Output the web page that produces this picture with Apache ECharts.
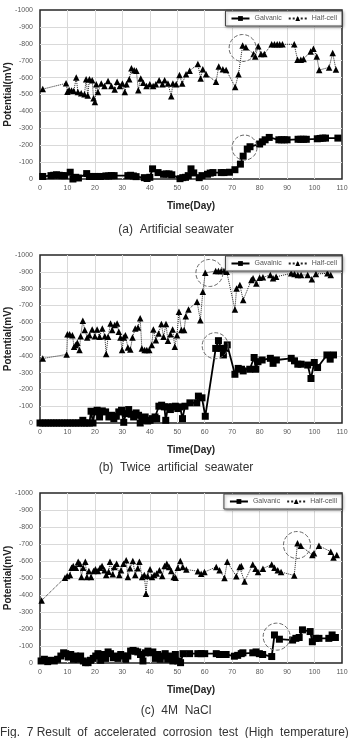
<!DOCTYPE html>
<html>
<head>
<meta charset="utf-8">
<script src="https://cdn.jsdelivr.net/npm/echarts@6/dist/echarts.min.js"></script>
<style>
	html, body { margin: 0; padding: 0; background: #fff; }
	#main { width: 352px; height: 738px; }
</style>
</head>
<body>
<div id="main"></div>
<script>
// (a) artificial seawater  [day, mV]
var galvanicA = [[1,-15],[4,-20],[5,-22],[6,-25],[7,-22],[8,-20],[9,-20],[11,-40],[12,0],[13,-10],[14,-6],[17,-32],[18,-15],[19,-15],[20,-15],[21,-15],[22,-15],[24,-18],[25,-18],[26,-20],[27,-20],[32,-20],[33,-22],[34,-18],[35,-14],[38,-8],[39,-3],[40,-10],[41,-60],[43,-38],[45,-28],[46,-30],[47,-30],[48,-25],[51,-2],[52,-8],[53,-10],[54,-20],[55,-60],[56,-36],[58,-8],[59,-20],[61,-28],[62,-35],[63,-38],[66,-38],[67,-38],[69,-40],[71,-55],[73,-88],[74,-135],[75.5,-177],[76.5,-191],[80,-207],[81,-220],[82,-232],[83.5,-246],[87,-232],[88,-232],[89,-232],[90,-232],[94,-235],[95,-235],[96,-235],[97,-235],[101,-238],[102,-240],[103,-242],[104,-242],[108.5,-242]];
var halfCellA = [[1,-532],[9.5,-566],[10,-517],[10.6,-527],[11.5,-523],[12.3,-520],[13.2,-600],[13.8,-515],[15,-508],[16.2,-502],[16.8,-590],[17.4,-494],[18,-590],[19,-585],[19.5,-478],[20,-455],[20.5,-560],[21.1,-515],[22.3,-565],[23.5,-550],[24.8,-580],[26,-550],[27.2,-530],[28.1,-575],[29.1,-550],[30,-565],[30.9,-515],[31.5,-560],[32.5,-590],[33.3,-655],[34.3,-643],[35.1,-640],[35.8,-525],[36.7,-595],[37.6,-570],[38.8,-550],[40,-560],[41.2,-550],[42.2,-560],[43.4,-585],[44.6,-560],[45.4,-585],[46.6,-565],[47.8,-490],[48.4,-565],[49.6,-560],[50.8,-615],[51.8,-565],[53.2,-620],[54.5,-640],[57.5,-680],[58.5,-595],[59.3,-650],[60.5,-620],[64.1,-575],[65.1,-665],[66.6,-650],[67.8,-645],[71.1,-545],[72.3,-620],[73.8,-790],[75,-780],[77.8,-740],[78.4,-725],[79.5,-785],[80.5,-740],[81.7,-740],[84.4,-797],[85.4,-797],[86.4,-797],[87.3,-797],[88.3,-797],[92.6,-797],[93.8,-705],[95,-705],[96,-710],[98.6,-755],[99.6,-770],[100.8,-725],[101.7,-645],[105.3,-660],[106.6,-745],[107.8,-648]];

// (b) twice artificial seawater
var galvanicB = [[0,0],[1,0],[2,0],[3,0],[4,0],[5,0],[6,0],[7,0],[8,0],[9,0],[10,0],[11,0],[12,0],[13,0],[14,0],[15,0],[15.6,-16],[16.2,0],[17,0],[18,0],[18.6,-70],[19.3,0],[19.9,-66],[20.8,-76],[21.7,-36],[22.7,-72],[23.9,-66],[25.1,-36],[26.1,-46],[26.9,-26],[27.8,-40],[28.7,-66],[29.7,-76],[30.5,-4],[31.3,-56],[32.3,-80],[33.2,-52],[34.1,-36],[35,-60],[35.9,-46],[36.5,0],[37.3,-16],[38.3,-36],[39.2,-12],[40.1,-16],[40.9,-26],[41.9,-36],[42.5,-26],[43.3,-100],[44.3,-106],[45.3,-96],[45.8,-16],[46.6,-96],[47.5,-80],[48.3,-96],[49.3,-100],[50.2,-86],[51,-96],[51.9,-26],[52.8,-100],[54.6,-120],[57.1,-120],[57.7,-160],[59,-150],[60.2,-40],[64,-444],[65,-490],[66,-444],[66.8,-405],[67.6,-444],[68.2,-465],[71,-290],[72.2,-325],[73.4,-320],[74,-310],[76.4,-320],[78,-390],[78.6,-320],[79.4,-365],[80.9,-375],[83.9,-385],[84.9,-355],[86.1,-375],[91.5,-385],[92.7,-370],[93.9,-350],[95.1,-350],[97.5,-345],[98.7,-265],[99.9,-360],[101.1,-330],[104.5,-405],[105.7,-380],[106.9,-405]];
var halfCellB = [[1,-384],[9.7,-408],[10,-529],[10.8,-529],[11.8,-523],[12.4,-454],[13,-464],[13.6,-478],[14.4,-434],[14.8,-517],[15.6,-609],[16.3,-553],[17.2,-509],[18,-523],[19,-557],[20,-517],[20.8,-557],[21.7,-513],[22.7,-563],[23.6,-517],[24.1,-410],[24.8,-513],[25.7,-593],[26.3,-553],[27.2,-583],[28.1,-593],[28.7,-543],[29.3,-509],[29.9,-434],[30.5,-509],[31.1,-523],[32,-450],[32.9,-438],[33.7,-509],[34.7,-563],[35.7,-569],[36.5,-623],[37.1,-444],[38.1,-434],[38.9,-434],[39.8,-434],[40.7,-464],[41.3,-557],[42.2,-493],[43.2,-533],[44.2,-589],[45,-513],[45.9,-589],[46.6,-489],[47.5,-529],[48.3,-557],[49.1,-454],[49.9,-523],[50.6,-662],[51.5,-553],[52.5,-553],[53.1,-636],[54.1,-676],[57.2,-722],[58.4,-612],[59.3,-781],[60.2,-894],[64,-905],[65,-905],[66,-905],[67,-905],[68,-900],[71,-676],[71.6,-801],[72.8,-821],[74,-732],[77,-851],[77.6,-861],[78.8,-831],[80,-865],[81.2,-867],[83.9,-881],[84.9,-861],[86,-870],[91.5,-891],[92.7,-887],[93.9,-881],[95.1,-881],[97.5,-881],[99,-855],[100.5,-887],[104.7,-891],[105.9,-881]];

// (c) 4M NaCl
var galvanicC = [[0.4,-12],[1.6,-22],[2.8,-8],[4,-16],[5.2,-12],[6.4,-22],[7.6,-41],[8.6,-60],[9.4,-55],[10.3,-35],[11.2,-50],[12.2,-22],[13,-41],[13.9,-22],[14.8,-41],[15.8,-12],[16.6,-2],[17.5,-2],[18.4,-16],[19.4,-27],[20.3,-41],[21.1,-55],[22.1,-16],[23,-50],[23.9,-27],[24.8,-65],[25.7,-55],[26.7,-31],[27.5,-41],[28.4,-27],[29.4,-50],[30.3,-41],[31.2,-22],[32,-41],[33,-70],[33.9,-74],[34.8,-70],[35.6,-65],[36.6,-50],[37.5,-12],[38.4,-60],[39.3,-70],[40.2,-60],[41.1,-65],[42,-27],[42.9,-50],[43.8,-22],[44.8,-41],[45.6,-55],[46.5,-22],[47.5,-41],[48.4,-12],[49.3,-50],[50.2,-12],[51.2,-2],[52.1,-55],[54.5,-55],[57.5,-55],[58.7,-55],[60,-55],[64.2,-55],[65.4,-50],[67.8,-50],[70.8,-40],[72,-45],[73.3,-55],[73.9,-60],[77.5,-60],[78.7,-65],[79.9,-55],[81.1,-50],[84.4,-38],[85.4,-165],[87.2,-140],[92,-135],[93.2,-145],[94.4,-150],[95.6,-195],[98.4,-185],[99.2,-125],[100.4,-145],[101.6,-145],[105.2,-145],[106.4,-165],[107.6,-150]];
var halfCellC = [[0.6,-368],[9.1,-502],[9.9,-512],[10.9,-518],[11.5,-561],[12.1,-571],[13.1,-561],[13.9,-596],[14.5,-584],[15.1,-506],[15.7,-561],[16.5,-596],[17.1,-506],[17.8,-541],[18.6,-506],[19.5,-541],[20.2,-551],[21.1,-541],[21.9,-561],[22.6,-571],[23.5,-545],[24.1,-518],[25,-537],[25.5,-596],[26.5,-522],[27.1,-565],[27.9,-584],[28.9,-518],[29.5,-545],[30.4,-584],[31.4,-604],[32,-506],[32.8,-557],[33.8,-600],[34.7,-518],[35.6,-557],[36.2,-596],[37.2,-506],[38,-518],[38.6,-408],[39.2,-512],[40.1,-551],[40.8,-506],[41.6,-518],[42.5,-526],[43.5,-545],[44.5,-512],[45.4,-571],[46.2,-584],[47,-565],[47.8,-541],[48.7,-506],[49.4,-502],[50.2,-561],[51.1,-600],[52,-565],[53.3,-550],[57.5,-540],[58.7,-525],[59.9,-535],[64.2,-565],[65.4,-545],[67.2,-500],[68.2,-595],[71.5,-510],[72.7,-565],[73.3,-570],[74.5,-480],[77.5,-580],[78.5,-555],[79.4,-535],[81.2,-555],[84.4,-580],[85.4,-560],[86.6,-545],[87.8,-535],[92.6,-515],[93.8,-705],[95,-690],[99.2,-635],[99.8,-645],[101.6,-690],[105.9,-655],[106.9,-620],[108.1,-635]];

// dashed circles [day, mV, size]
var circleGalA = [74.5, -186, 25], circleHalfA = [73.8, -775, 27];
var circleGalB = [63.8, -460, 26], circleHalfB = [61.7, -893, 27];
var circleGalC = [86.2, -155, 27], circleHalfC = [93.6, -694, 27];

var legendNames = [['Galvanic', 'Half-cell'], ['Gavalnic', 'Half-cell'], ['Galvanic', 'Half-celll']];
var captions = ['(a)  Artificial seawater', '(b)  Twice  artificial  seawater', '(c)  4M  NaCl'];

var font = 'Liberation Sans';
var panelTop = [10, 255, 493];
var panelHeight = [169, 168, 170];
var captionTop = [224, 462, 705];

function circleMark(c) {
	return {
		silent: true,
		symbol: 'circle',
		symbolSize: c[2],
		label: { show: false },
		itemStyle: { color: 'rgba(0,0,0,0)', borderColor: '#666', borderWidth: 1, borderType: 'dashed' },
		data: [{ coord: [c[0], c[1]] }]
	};
}

var grids = [], xAxes = [], yAxes = [], series = [], legends = [], titles = [];
var gal = [galvanicA, galvanicB, galvanicC];
var half = [halfCellA, halfCellB, halfCellC];
var circGal = [circleGalA, circleGalB, circleGalC];
var circHalf = [circleHalfA, circleHalfB, circleHalfC];

for (var i = 0; i < 3; i++) {
	grids.push({
		left: 40, right: 10, top: panelTop[i], height: panelHeight[i],
		containLabel: false, outerBoundsMode: 'none',
		show: true, borderColor: '#262626', borderWidth: 1.5, backgroundColor: '#fff'
	});
	xAxes.push({
		gridIndex: i, type: 'value', min: 0, max: 110, interval: 10,
		axisLine: { show: false }, axisTick: { show: false },
		axisLabel: { fontSize: 7, color: '#595959', margin: 6, fontFamily: font },
		splitLine: { showMinLine: false, showMaxLine: false, lineStyle: { color: '#d9d9d9', width: 1 } },
		name: 'Time(Day)', nameLocation: 'middle', nameGap: 22, nameMoveOverlap: false,
		nameTextStyle: { fontSize: 10, fontWeight: 'bold', color: '#222', fontFamily: font }
	});
	yAxes.push({
		gridIndex: i, type: 'value', min: -1000, max: 0, interval: 100, inverse: true,
		axisLine: { show: false }, axisTick: { show: false },
		axisLabel: {
			fontSize: 7, color: '#595959', margin: 7, fontFamily: font,
			formatter: function (v) { return String(v); }
		},
		splitLine: { showMinLine: false, showMaxLine: false, lineStyle: { color: '#d9d9d9', width: 1 } },
		name: 'Potential(mV)', nameLocation: 'middle', nameGap: 27, nameMoveOverlap: false,
		nameTextStyle: { fontSize: 10, fontWeight: 'bold', color: '#222', fontFamily: font }
	});
	series.push({
		name: legendNames[i][0], type: 'line', xAxisIndex: i, yAxisIndex: i,
		data: gal[i], symbol: 'rect', symbolSize: 7,
		lineStyle: { color: '#000', width: 1.8 }, itemStyle: { color: '#000' },
		markPoint: circleMark(circGal[i])
	});
	series.push({
		name: legendNames[i][1], type: 'line', xAxisIndex: i, yAxisIndex: i,
		data: half[i], symbol: 'triangle', symbolSize: 6.5,
		lineStyle: { color: '#222', width: 1, type: 'dotted' }, itemStyle: { color: '#000' },
		markPoint: circleMark(circHalf[i])
	});
	legends.push({
		data: legendNames[i], right: 10, top: panelTop[i] + 1, selectedMode: false,
		itemWidth: 18, itemHeight: 6, itemGap: 6, padding: [4, 5],
		borderColor: '#444', borderWidth: 1, backgroundColor: '#fff',
		shadowColor: 'rgba(0,0,0,0.35)', shadowBlur: 3, shadowOffsetX: 1, shadowOffsetY: 1,
		textStyle: { fontSize: 7, color: '#555', fontFamily: font }
	});
	titles.push({
		text: captions[i], left: 'center', top: captionTop[i], padding: 0,
		textStyle: { fontSize: 12, fontWeight: 'normal', color: '#333', fontFamily: font }
	});
}
titles.push({
	text: 'Fig.  7 Result  of  accelerated  corrosion  test  (High  temperature)',
	left: 0, top: 727, padding: 0,
	textStyle: { fontSize: 12, fontWeight: 'normal', color: '#333', fontFamily: font }
});

var myChart = echarts.init(document.getElementById('main'));
myChart.setOption({
	animation: false,
	backgroundColor: '#fff',
	title: titles,
	legend: legends,
	grid: grids,
	xAxis: xAxes,
	yAxis: yAxes,
	series: series
});
</script>
</body>
</html>
